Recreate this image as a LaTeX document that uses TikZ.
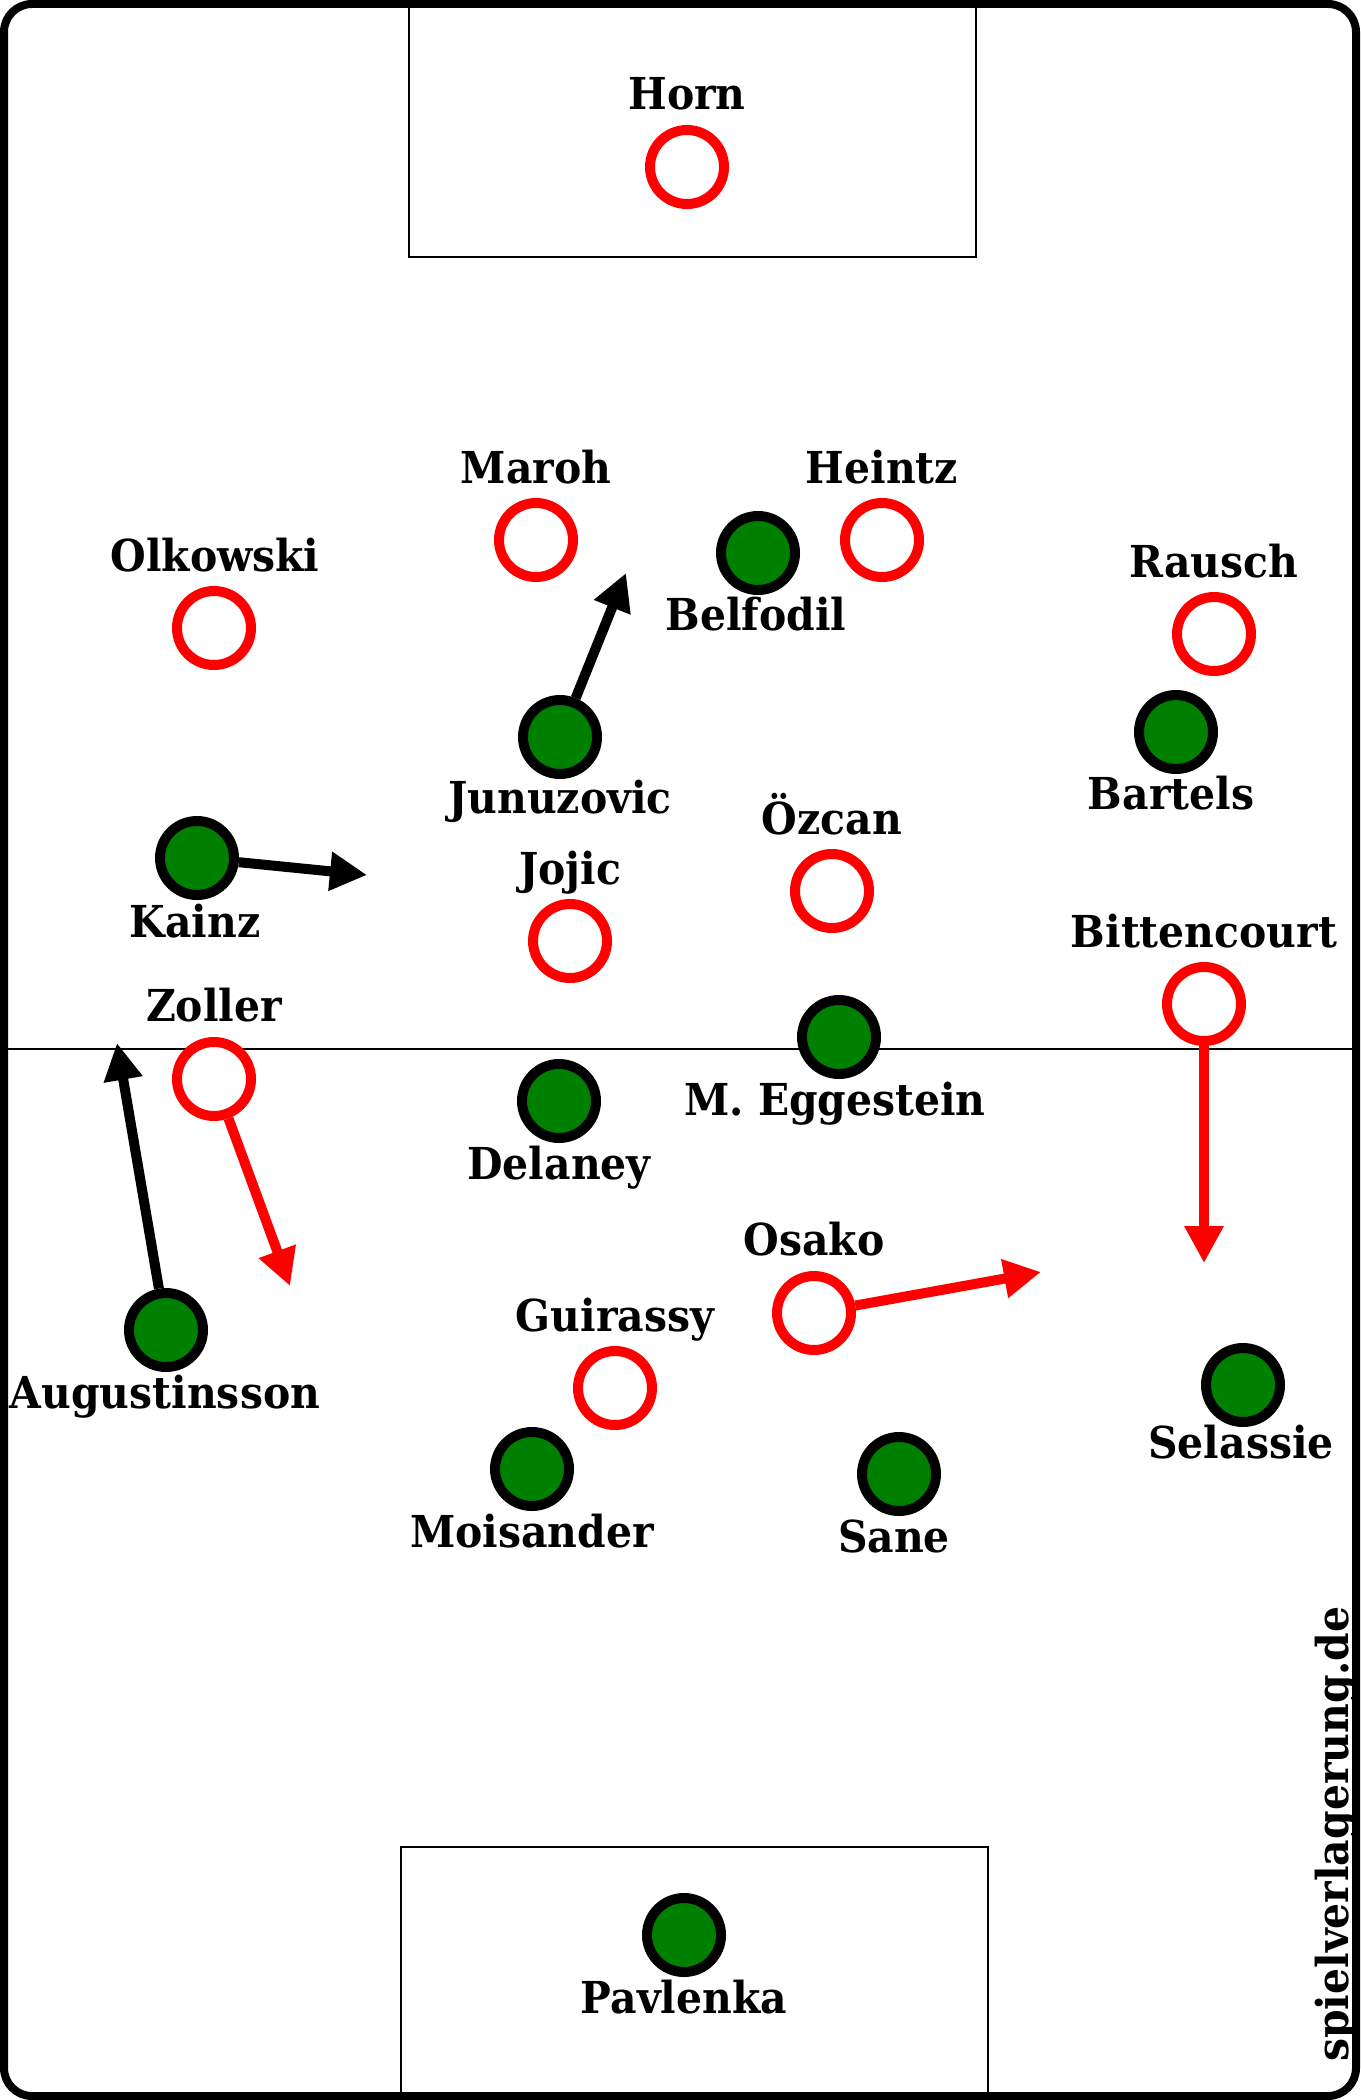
\documentclass[tikz,border=0pt]{standalone}
\usepackage{fontspec}
\setmainfont{DejaVu Serif}[FakeStretch=0.93]
\usetikzlibrary{arrows.meta}
\definecolor{pitchgreen}{RGB}{0,128,0}
\newcommand{\namefont}{\fontsize{44pt}{50pt}\selectfont\bfseries}
\tikzset{
    redplayer/.style={circle, draw=red, fill=white, line width=10pt, minimum size=74pt, inner sep=0pt},
    greenplayer/.style={circle, draw=black, fill=pitchgreen, line width=10pt, minimum size=74pt, inner sep=0pt},
    playername/.style={anchor=base, inner sep=0pt, font=\namefont},
    redrun/.style={draw=red, line width=10pt, -{Triangle[length=37pt,width=37pt]}},
    blackrun/.style={draw=black, line width=10pt, -{Triangle[length=37pt,width=37pt]}}
}
\begin{document}
\begin{tikzpicture}[x=1pt,y=1pt,yscale=-1,xscale=1]
    \useasboundingbox (0,0) rectangle (1360,2100);
    % Pitch
    \draw[line width=8pt, rounded corners=28pt] (4,4) rectangle (1356,2096);
    \draw[line width=2.5pt] (409,4) -- (409,257) -- (976,257) -- (976,4);
    \draw[line width=2.5pt] (401,2096) -- (401,1847) -- (988,1847) -- (988,2096);
    \draw[line width=2pt] (4,1049) -- (1356,1049);
    % Red team
    \node[redplayer] (horn) at (687,167) {};
    \node[playername] (hornname) at (687,110) {Horn};
    \node[redplayer] (maroh) at (536,540) {};
    \node[playername] (marohname) at (536,483) {Maroh};
    \node[redplayer] (heintz) at (882,540) {};
    \node[playername] (heintzname) at (882,483) {Heintz};
    \node[redplayer] (olkowski) at (214,628) {};
    \node[playername] (olkowskiname) at (215,571) {Olkowski};
    \node[redplayer] (rausch) at (1214,634) {};
    \node[playername] (rauschname) at (1214,577) {Rausch};
    \node[redplayer] (oezcan) at (832,891) {};
    \node[playername] (oezcanname) at (832,834) {Özcan};
    \node[redplayer] (jojic) at (570,941) {};
    \node[playername] (jojicname) at (570,884) {Jojic};
    \node[redplayer] (bittencourt) at (1204,1004) {};
    \node[playername] (bittencourtname) at (1204,947) {Bittencourt};
    \node[redplayer] (zoller) at (214,1079) {};
    \node[playername] (zollername) at (214,1021) {Zoller};
    \node[redplayer] (osako) at (814,1313) {};
    \node[playername] (osakoname) at (814,1255) {Osako};
    \node[redplayer] (guirassy) at (615,1388) {};
    \node[playername] (guirassyname) at (615,1331) {Guirassy};
    % Green team
    \node[greenplayer] (belfodil) at (758,553) {};
    \node[playername] (belfodilname) at (756,630) {Belfodil};
    \node[greenplayer] (bartels) at (1176,732) {};
    \node[playername] (bartelsname) at (1171,809) {Bartels};
    \node[greenplayer] (junuzovic) at (560,737) {};
    \node[playername] (junuzovicname) at (560,813) {Junuzovic};
    \node[greenplayer] (kainz) at (197,858) {};
    \node[playername] (kainzname) at (195,937) {Kainz};
    \node[greenplayer] (eggestein) at (839,1037) {};
    \node[playername] (eggesteinname) at (835,1115) {M. Eggestein};
    \node[greenplayer] (delaney) at (559,1101) {};
    \node[playername] (delaneyname) at (559,1179) {Delaney};
    \node[greenplayer] (augustinsson) at (166,1330) {};
    \node[playername] (augustinssonname) at (165,1408) {Augustinsson};
    \node[greenplayer] (selassie) at (1243,1385) {};
    \node[playername] (selassiename) at (1241,1458) {Selassie};
    \node[greenplayer] (moisander) at (532,1469) {};
    \node[playername] (moisandername) at (532,1547) {Moisander};
    \node[greenplayer] (sane) at (899,1474) {};
    \node[playername] (sanename) at (894,1552) {Sane};
    \node[greenplayer] (pavlenka) at (684,1935) {};
    \node[playername] (pavlenkaname) at (684,2013) {Pavlenka};
    % Runs
    \coordinate (junuzovicrun) at (626,573);
    \coordinate (kainzrun) at (367,875);
    \coordinate (augustinssonrun) at (117,1043);
    \coordinate (zollerrun) at (290,1286);
    \coordinate (osakorun) at (1041,1272);
    \coordinate (bittencourtrun) at (1204,1263);
    \draw[blackrun] (junuzovic) -- (junuzovicrun);
    \draw[blackrun] (kainz) -- (kainzrun);
    \draw[blackrun] (augustinsson) -- (augustinssonrun);
    \draw[redrun] (zoller) -- (zollerrun);
    \draw[redrun] (osako) -- (osakorun);
    \draw[redrun] (bittencourt) -- (bittencourtrun);
    % Watermark
    \node[playername, rotate=90] (watermark) at (1348,1834) {spielverlagerung.de};
\end{tikzpicture}
\end{document}
